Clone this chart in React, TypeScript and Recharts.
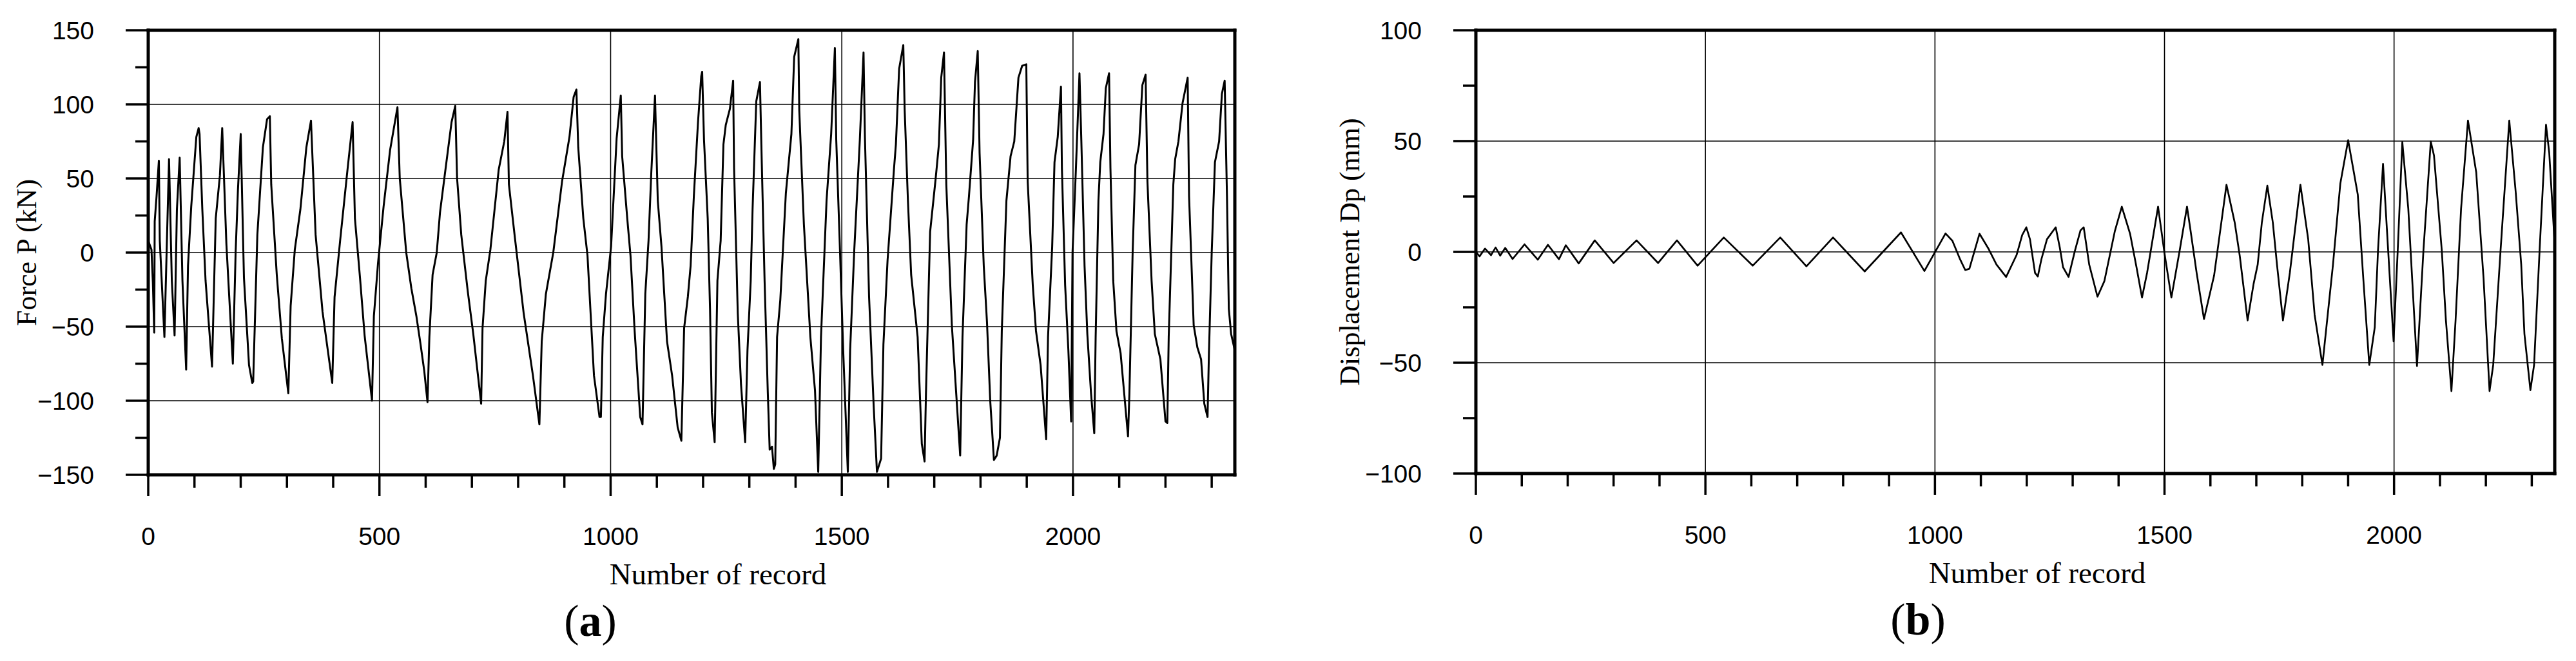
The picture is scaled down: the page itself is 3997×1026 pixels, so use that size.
import { LineChart, Line, XAxis, YAxis, ReferenceLine, Label } from 'recharts'

// record axis (shared by both panels)
const recordTicks = [0, 100, 200, 300, 400, 500, 600, 700, 800, 900, 1000, 1100, 1200, 1300, 1400, 1500, 1600, 1700, 1800, 1900, 2000, 2100, 2200, 2300]
const recordGrid = [500, 1000, 1500, 2000]

// panel (a) force
const forceTicks = [-150, -125, -100, -75, -50, -25, 0, 25, 50, 75, 100, 125, 150]
const forceGrid = [-100, -50, 0, 50, 100]
// [record, force kN]
const forcePoints: [number, number][] = [
  [0, 8], [7, 2], [10, -20], [13, -54], [14, 21], [18, 38], [23, 62], [25, 8], [35, -57], [45, 63],
  [51, -19], [57, -56], [62, 29], [68, 64], [74, -19], [82, -79], [86, -9], [93, 31], [104, 78], [109, 84],
  [111, 80], [117, 29], [124, -19], [138, -77], [146, 23], [155, 52], [160, 84], [169, 6], [183, -75], [189, 0],
  [194, 42], [200, 80], [207, -17], [218, -76], [225, -88], [227, -87], [236, 12], [248, 71], [257, 90], [263, 92],
  [266, 46], [278, -15], [289, -58], [303, -95], [308, -36], [317, 2], [329, 29], [342, 71], [352, 89], [362, 12],
  [377, -40], [398, -88], [403, -30], [415, 8], [431, 56], [442, 88], [447, 23], [458, -17], [468, -56], [484, -100],
  [488, -43], [497, -7], [509, 31], [523, 69], [539, 98], [544, 50], [558, 0], [569, -24], [580, -43], [589, -62],
  [597, -80], [604, -101], [608, -57], [615, -15], [624, 0], [631, 27], [642, 54], [656, 88], [664, 99], [668, 50],
  [677, 12], [691, -26], [703, -55], [720, -102], [723, -51], [730, -19], [740, 2], [758, 56], [770, 75], [777, 95],
  [780, 46], [793, 10], [812, -41], [832, -83], [846, -116], [851, -60], [860, -28], [876, 0], [895, 48], [911, 78],
  [920, 105], [926, 110], [930, 71], [941, 23], [950, -2], [964, -83], [976, -111], [979, -111], [983, -57], [990, -28],
  [1001, 4], [1013, 77], [1022, 106], [1025, 65], [1036, 23], [1043, -2], [1052, -53], [1064, -111], [1069, -116], [1075, -28],
  [1082, 8], [1088, 54], [1096, 106], [1102, 35], [1110, 4], [1122, -60], [1133, -83], [1145, -118], [1153, -127], [1159, -51],
  [1167, -30], [1173, -9], [1180, 38], [1189, 88], [1196, 119], [1198, 122], [1202, 76], [1210, 23], [1215, -38], [1219, -108],
  [1225, -128], [1231, -19], [1238, 8], [1244, 73], [1249, 86], [1258, 97], [1265, 116], [1267, 57], [1275, -41], [1282, -89],
  [1291, -128], [1296, -66], [1303, -19], [1307, 29], [1315, 102], [1323, 115], [1326, 73], [1333, -19], [1340, -95], [1344, -133],
  [1349, -131], [1353, -146], [1356, -143], [1360, -57], [1367, -32], [1379, 40], [1391, 80], [1397, 132], [1406, 144], [1408, 96],
  [1418, 19], [1432, -57], [1442, -93], [1449, -148], [1455, -57], [1467, 35], [1477, 80], [1485, 138], [1488, 76], [1496, 2],
  [1503, -66], [1513, -148], [1518, -66], [1527, 2], [1539, 76], [1547, 135], [1550, 78], [1559, -30], [1569, -104], [1576, -148],
  [1585, -139], [1590, -62], [1599, -5], [1613, 57], [1617, 73], [1624, 124], [1633, 140], [1636, 96], [1643, 35], [1650, -15],
  [1664, -57], [1673, -129], [1679, -141], [1682, -95], [1691, 14], [1703, 50], [1710, 73], [1715, 118], [1721, 135], [1726, 46],
  [1738, -49], [1756, -137], [1761, -57], [1770, 19], [1775, 38], [1784, 76], [1788, 115], [1794, 136], [1798, 67], [1807, -9],
  [1814, -47], [1821, -100], [1829, -140], [1835, -137], [1842, -125], [1846, -53], [1856, 35], [1865, 65], [1873, 75], [1882, 118],
  [1890, 126], [1899, 127], [1902, 48], [1913, -22], [1920, -53], [1930, -76], [1942, -126], [1946, -57], [1955, 4], [1960, 61],
  [1967, 78], [1974, 112], [1976, 57], [1983, -22], [1990, -66], [1996, -114], [1999, 0], [2006, 54], [2014, 121], [2018, 76],
  [2025, -9], [2031, -55], [2039, -95], [2046, -122], [2049, -57], [2055, 35], [2059, 61], [2066, 80], [2071, 111], [2078, 121],
  [2081, 57], [2087, -19], [2094, -53], [2103, -68], [2119, -124], [2122, -95], [2129, 0], [2135, 59], [2143, 73], [2150, 113],
  [2157, 120], [2161, 48], [2170, -19], [2177, -55], [2189, -72], [2200, -114], [2204, -115], [2207, -57], [2217, 46], [2221, 63],
  [2228, 75], [2237, 101], [2248, 118], [2251, 38], [2261, -49], [2269, -64], [2277, -72], [2284, -102], [2291, -111], [2294, -68],
  [2300, 0], [2307, 61], [2316, 75], [2322, 107], [2328, 116], [2333, 38], [2337, -38], [2342, -55], [2350, -66],
]

// panel (b) displacement
const dispTicks = [-100, -75, -50, -25, 0, 25, 50, 75, 100]
const dispGrid = [-50, 0, 50]
// [record, displacement mm]
const dispPoints: [number, number][] = [
  [0, 0], [8, -2], [20, 1.5], [33, -1.5], [43, 2], [53, -1.7], [64, 1.8], [80, -3.2], [106, 3.4], [135, -3.5],
  [157, 3.2], [181, -3.3], [196, 3], [224, -5.2], [259, 5.2], [300, -5], [350, 5.2], [397, -5], [438, 5.2], [483, -6.2],
  [540, 6.5], [603, -6.2], [663, 6.5], [720, -6.5], [778, 6.5], [847, -8.8], [926, 8.8], [977, -8.6], [1023, 8.3], [1038, 5],
  [1054, -3], [1066, -8.2], [1075, -7.6], [1097, 8.2], [1117, 1.3], [1134, -5.7], [1155, -11.3], [1178, -1.3], [1190, 7.6], [1199, 11.1],
  [1207, 5.7], [1218, -9.5], [1224, -11.1], [1232, -3.2], [1244, 5.7], [1263, 11.1], [1272, 1.9], [1279, -6.9], [1291, -11.3], [1305, 0.6],
  [1317, 9.7], [1324, 11.1], [1336, -5.7], [1354, -20.2], [1369, -13.2], [1392, 9.5], [1407, 20.4], [1425, 8.2], [1439, -6.9], [1451, -20.6],
  [1462, -9.5], [1486, 20.4], [1500, -0.6], [1515, -20.6], [1533, 0.6], [1549, 20.4], [1556, 10.7], [1570, -9.5], [1586, -30.3], [1608, -10.7],
  [1635, 30.3], [1653, 13.2], [1664, -1.9], [1681, -30.9], [1694, -14.5], [1703, -5.7], [1712, 13.2], [1724, 29.9], [1736, 13.2], [1745, -5.7],
  [1758, -30.9], [1773, -9.5], [1796, 30.3], [1813, 5.7], [1827, -28.4], [1844, -51], [1867, -5.7], [1883, 30.9], [1900, 50.4], [1921, 25.9],
  [1933, -12], [1946, -51], [1958, -34], [1965, 0.6], [1976, 39.7], [1989, -5.7], [1999, -40.4], [2008, 0.6], [2018, 49.6], [2031, 19.5],
  [2050, -51.5], [2064, 0.6], [2080, 49.8], [2087, 43.5], [2104, 0.6], [2113, -30.9], [2125, -62.8], [2134, -30.9], [2146, 19.5], [2161, 59.3],
  [2179, 35.9], [2195, -12], [2208, -62.8], [2216, -51], [2232, 0.6], [2251, 59.3], [2265, 27], [2277, -5.7], [2284, -37], [2297, -62.4],
  [2305, -51], [2317, 0.6], [2331, 57.4], [2338, 44.8], [2350, 3.2],
]

const forceData = forcePoints.map(([rec, value]) => ({ rec, value }))
const dispData = dispPoints.map(([rec, value]) => ({ rec, value }))

const SANS = '"Liberation Sans", Arial, sans-serif'
const SERIF = '"Liberation Serif", "Times New Roman", serif'

const fmt = (v: number) => (v < 0 ? '\u2212' + Math.abs(v) : String(v))

function XTick(props: any) {
  const { x, y, payload } = props
  const major = payload.value % 500 === 0
  return (
    <g>
      <line x1={x} x2={x} y1={y} y2={y + (major ? 33 : 20)} stroke="#000" strokeWidth={3.5} />
      {major && (
        <text x={x} y={y + 95} dy="0.36em" textAnchor="middle" fontFamily={SANS} fontSize={39} fill="#000">
          {payload.value}
        </text>
      )}
    </g>
  )
}

function YTick(props: any) {
  const { x, y, payload } = props
  const major = payload.value % 50 === 0
  return (
    <g>
      <line x1={x - (major ? 35 : 20)} x2={x} y1={y} y2={y} stroke="#000" strokeWidth={3.5} />
      {major && (
        <text x={x - 84} y={y} dy="0.36em" textAnchor="end" fontFamily={SANS} fontSize={39} fill="#000">
          {fmt(payload.value)}
        </text>
      )}
    </g>
  )
}

interface PanelProps {
  data: Array<{ rec: number; value: number }>
  yTicks: number[]
  yGrid: number[]
  yDomain: [number, number]
  yTitle: string
  yTitleGap: number
  letter: string
  width: number
  margin: { top: number; right: number; bottom: number; left: number }
  titleShift: number
  lineWidth: number
}

function Panel({ data, yTicks, yGrid, yDomain, yTitle, yTitleGap, letter, width, margin, titleShift, lineWidth }: PanelProps) {
  return (
    <LineChart width={width} height={1026} data={data} margin={margin}>
      <XAxis
        dataKey="rec"
        type="number"
        domain={[0, 2350]}
        ticks={recordTicks}
        interval={0}
        allowDataOverflow
        height={180}
        tickSize={0}
        tickMargin={0}
        tickLine={false}
        tick={(p: any) => <XTick {...p} />}
        axisLine={{ stroke: '#000', strokeWidth: 5, strokeLinecap: 'square' }}
      >
        <Label
          content={(p: any) => {
            const vb = p.viewBox
            return (
              <g>
                <text x={vb.x + vb.width / 2 + titleShift} y={vb.y + 170} textAnchor="middle" fontFamily={SERIF} fontSize={47} fill="#000">
                  Number of record
                </text>
                <text x={vb.x + 686} y={vb.y + 250} textAnchor="middle" fontFamily={SERIF} fontSize={70} fill="#000">
                  (<tspan fontWeight="bold">{letter}</tspan>)
                </text>
              </g>
            )
          }}
        />
      </XAxis>
      <YAxis
        type="number"
        domain={yDomain}
        ticks={yTicks}
        interval={0}
        allowDataOverflow
        width={200}
        tickSize={0}
        tickMargin={0}
        tickLine={false}
        tick={(p: any) => <YTick {...p} />}
        axisLine={{ stroke: '#000', strokeWidth: 5, strokeLinecap: 'square' }}
      >
        <Label
          content={(p: any) => {
            const vb = p.viewBox
            const cx = vb.x + vb.width - yTitleGap
            const cy = vb.y + vb.height / 2
            return (
              <text
                x={cx}
                y={cy}
                dy="0.33em"
                textAnchor="middle"
                transform={`rotate(-90, ${cx}, ${cy})`}
                fontFamily={SERIF}
                fontSize={44}
                fill="#000"
              >
                {yTitle}
              </text>
            )
          }}
        />
      </YAxis>
      {yGrid.map((v) => (
        <ReferenceLine key={'h' + v} y={v} stroke="#000" strokeWidth={1.6} />
      ))}
      {recordGrid.map((v) => (
        <ReferenceLine key={'v' + v} x={v} stroke="#000" strokeWidth={1.6} />
      ))}
      <ReferenceLine y={yDomain[1]} stroke="#000" strokeWidth={5} strokeLinecap="square" />
      <ReferenceLine x={2350} stroke="#000" strokeWidth={5} strokeLinecap="square" />
      <Line
        type="linear"
        dataKey="value"
        stroke="#000"
        strokeWidth={lineWidth}
        strokeLinejoin="round"
        dot={false}
        activeDot={false}
        isAnimationActive={false}
      />
    </LineChart>
  )
}

export default function App() {
  return (
    <div style={{ position: 'absolute', left: 0, top: 0, width: 3997, height: 1026, background: '#fff', overflow: 'hidden' }}>
      <div style={{ position: 'absolute', left: 0, top: 0 }}>
        <Panel
          data={forceData}
          yTicks={forceTicks}
          yGrid={forceGrid}
          yDomain={[-150, 150]}
          yTitle="Force P (kN)"
          yTitleGap={189}
          letter="a"
          width={1960}
          margin={{ top: 47, right: 44, bottom: 109, left: 30 }}
          titleShift={41}
          lineWidth={3}
        />
      </div>
      <div style={{ position: 'absolute', left: 2000, top: 0 }}>
        <Panel
          data={dispData}
          yTicks={dispTicks}
          yGrid={dispGrid}
          yDomain={[-100, 100]}
          yTitle="Displacement Dp (mm)"
          yTitleGap={196}
          letter="b"
          width={1997}
          margin={{ top: 47, right: 33, bottom: 111, left: 90 }}
          titleShift={34}
          lineWidth={2.7}
        />
      </div>
    </div>
  )
}
